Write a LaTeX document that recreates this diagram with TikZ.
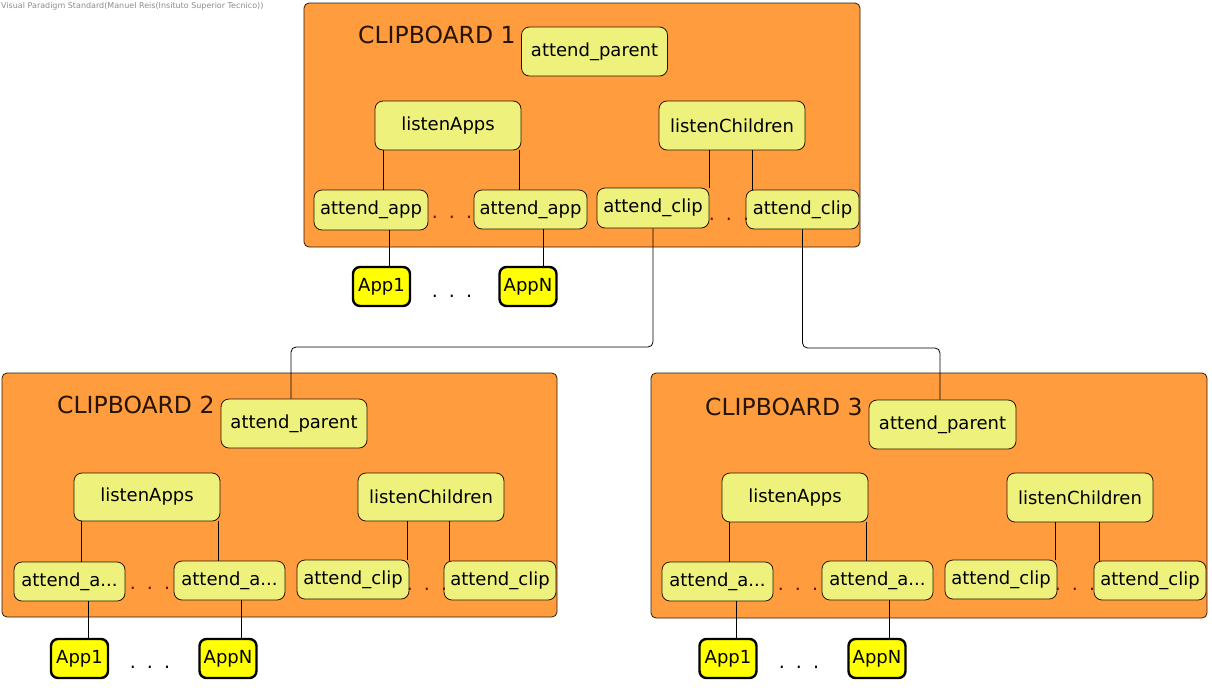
\documentclass[tikz,border=0pt]{standalone}
\usepackage{fontspec}
\setmainfont{DejaVu Sans}
\newcommand{\tdots}{.\hspace{11pt}.\hspace{11pt}.}
\begin{document}
\begin{tikzpicture}[x=1pt,y=-1pt,
  cb/.style={draw=black!80!orange, fill=cbfill, rounded corners=5pt, line width=0.8pt},
  op/.style={draw=black!85!orange, fill=opfill, rounded corners=8pt, inner sep=0pt, line width=0.8pt,
    font=\fontsize{18}{21}\selectfont, text=black},
  app/.style={draw=black, fill=appfill, rounded corners=7pt, inner sep=0pt, line width=2.4pt,
    minimum width=57pt, minimum height=39pt, font=\fontsize{18}{21}\selectfont},
  title/.style={anchor=base west, inner sep=0pt, font=\fontsize{23.5}{27}\selectfont, text=black!85!orange},
  idots/.style={anchor=base, inner sep=0pt, font=\fontsize{19}{22}\selectfont, text=dotred},
  odots/.style={anchor=base, inner sep=0pt, font=\fontsize{19}{22}\selectfont, text=black},
  conn/.style={draw=black, line width=0.8pt},
  bconn/.style={draw=black, line width=0.8pt, rounded corners=5pt}]
\definecolor{cbfill}{HTML}{FF9C3E}
\definecolor{opfill}{HTML}{EEF27C}
\definecolor{appfill}{HTML}{FFFF00}
\definecolor{dotred}{HTML}{7A0A00}
\useasboundingbox (0,0) rectangle (1212,689);
\node[anchor=north west, inner sep=0pt, font=\fontsize{8}{9}\selectfont, text=black!45] (wm) at (1,2) {Visual Paradigm Standard(Manuel Reis(Insituto Superior Tecnico))};

% ---------- CLIPBOARD 1 ----------
\path[cb] (304,3) rectangle (860,247);
\node[title] (t1) at (358,43) {CLIPBOARD 1};
\node[op, minimum width=146pt, minimum height=49pt] (p1) at (594.5,51.5) {attend\_parent};
\node[op, minimum width=146pt, minimum height=49pt] (la1) at (448,125.5) {listenApps};
\node[op, minimum width=146pt, minimum height=49pt] (lc1) at (732,125.5) {listenChildren};
\node[op, minimum width=114pt, minimum height=40pt] (aa1) at (371,210) {attend\_app};
\node[op, minimum width=113pt, minimum height=39pt] (ab1) at (530.5,209.5) {attend\_app};
\node[op, minimum width=112pt, minimum height=40pt] (ca1) at (653,208) {attend\_clip};
\node[op, minimum width=113pt, minimum height=39pt] (cb1) at (802.5,209.5) {attend\_clip};
\node[app] (x1) at (381.5,286.5) {App1};
\node[app] (y1) at (528,286.5) {AppN};
\node[idots] (d1a) at (452,218) {\tdots};
\node[idots] (d1b) at (729,220) {\tdots};
\node[odots] (d1c) at (452,297) {\tdots};
\draw[conn] ([xshift=12pt]aa1.north) -- ([xshift=12pt]aa1.north |- la1.south);
\draw[conn] ([xshift=-11.5pt]ab1.north) -- ([xshift=-11.5pt]ab1.north |- la1.south);
\draw[conn] ([xshift=56pt]ca1.north) -- ([xshift=56pt]ca1.north |- lc1.south);
\draw[conn] ([xshift=-50.5pt]cb1.north) -- ([xshift=-50.5pt]cb1.north |- lc1.south);
\draw[conn] ([xshift=18pt]aa1.south) -- ([xshift=18pt]aa1.south |- x1.north);
\draw[conn] ([xshift=12.5pt]ab1.south) -- ([xshift=12.5pt]ab1.south |- y1.north);

% ---------- CLIPBOARD 2 ----------
\path[cb] (2,373) rectangle (557,617);
\node[title] (t2) at (57,413) {CLIPBOARD 2};
\node[op, minimum width=146pt, minimum height=49pt] (p2) at (294,423.5) {attend\_parent};
\node[op, minimum width=146pt, minimum height=48pt] (la2) at (147,497) {listenApps};
\node[op, minimum width=146pt, minimum height=48pt] (lc2) at (431,497) {listenChildren};
\node[op, minimum width=111pt, minimum height=39pt] (aa2) at (69.5,581.5) {attend\_a...};
\node[op, minimum width=111pt, minimum height=39pt] (ab2) at (229.5,580.5) {attend\_a...};
\node[op, minimum width=112pt, minimum height=39pt] (ca2) at (353,579.5) {attend\_clip};
\node[op, minimum width=112pt, minimum height=39pt] (cb2) at (500,580.5) {attend\_clip};
\node[app] (x2) at (79.5,658.5) {App1};
\node[app] (y2) at (228,658.5) {AppN};
\node[idots] (d2a) at (150,589) {\tdots};
\node[idots] (d2b) at (427,590) {\tdots};
\node[odots] (d2c) at (150,668) {\tdots};
\draw[conn] ([xshift=11.5pt]aa2.north) -- ([xshift=11.5pt]aa2.north |- la2.south);
\draw[conn] ([xshift=-11.5pt]ab2.north) -- ([xshift=-11.5pt]ab2.north |- la2.south);
\draw[conn] ([xshift=54pt]ca2.north) -- ([xshift=54pt]ca2.north |- lc2.south);
\draw[conn] ([xshift=-51pt]cb2.north) -- ([xshift=-51pt]cb2.north |- lc2.south);
\draw[conn] ([xshift=18.5pt]aa2.south) -- ([xshift=18.5pt]aa2.south |- x2.north);
\draw[conn] ([xshift=11.5pt]ab2.south) -- ([xshift=11.5pt]ab2.south |- y2.north);

% ---------- CLIPBOARD 3 ----------
\path[cb] (651,373) rectangle (1207,618);
\node[title] (t3) at (705,415) {CLIPBOARD 3};
\node[op, minimum width=147pt, minimum height=49pt] (p3) at (942.5,424.5) {attend\_parent};
\node[op, minimum width=146pt, minimum height=49pt] (la3) at (795,497.5) {listenApps};
\node[op, minimum width=146pt, minimum height=49pt] (lc3) at (1080,497.5) {listenChildren};
\node[op, minimum width=111pt, minimum height=39pt] (aa3) at (717.5,581.5) {attend\_a...};
\node[op, minimum width=111pt, minimum height=39pt] (ab3) at (877.5,580.5) {attend\_a...};
\node[op, minimum width=112pt, minimum height=39pt] (ca3) at (1001,579.5) {attend\_clip};
\node[op, minimum width=112pt, minimum height=39pt] (cb3) at (1150,580.5) {attend\_clip};
\node[app] (x3) at (728,658.5) {App1};
\node[app] (y3) at (877,658.5) {AppN};
\node[idots] (d3a) at (798,590) {\tdots};
\node[idots] (d3b) at (1075,590) {\tdots};
\node[odots] (d3c) at (799,668) {\tdots};
\draw[conn] ([xshift=11.5pt]aa3.north) -- ([xshift=11.5pt]aa3.north |- la3.south);
\draw[conn] ([xshift=-11.5pt]ab3.north) -- ([xshift=-11.5pt]ab3.north |- la3.south);
\draw[conn] ([xshift=54pt]ca3.north) -- ([xshift=54pt]ca3.north |- lc3.south);
\draw[conn] ([xshift=-51pt]cb3.north) -- ([xshift=-51pt]cb3.north |- lc3.south);
\draw[conn] ([xshift=18.5pt]aa3.south) -- ([xshift=18.5pt]aa3.south |- x3.north);
\draw[conn] ([xshift=11.5pt]ab3.south) -- ([xshift=11.5pt]ab3.south |- y3.north);

% ---------- parent links ----------
\draw[bconn] (ca1.south) -- (ca1.south |- 0,347) -| ([xshift=-3pt]p2.north);
\draw[bconn] (cb1.south) -- (cb1.south |- 0,348) -| ([xshift=-2.5pt]p3.north);
\end{tikzpicture}
\end{document}
